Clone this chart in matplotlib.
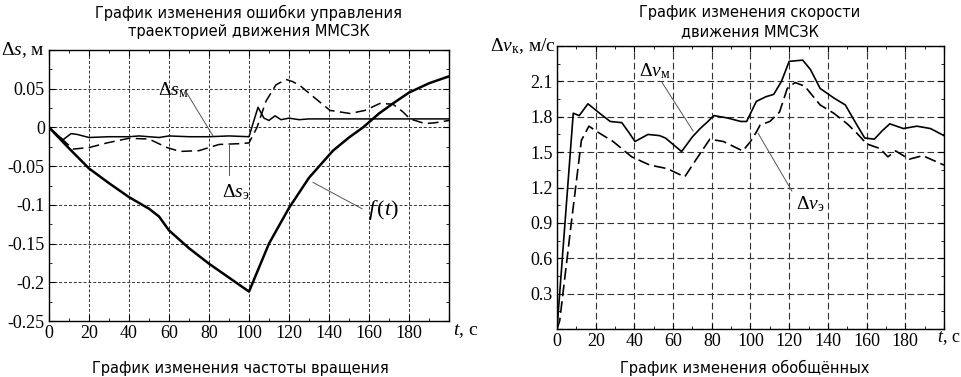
import numpy as np
import matplotlib
matplotlib.use("Agg")
import matplotlib.pyplot as plt
from matplotlib.ticker import MultipleLocator, FuncFormatter

plt.rcParams['axes.unicode_minus'] = False
plt.rcParams['mathtext.fontset'] = 'custom'
plt.rcParams['mathtext.rm'] = 'Liberation Serif'
plt.rcParams['mathtext.it'] = 'Liberation Serif:italic'
plt.rcParams['mathtext.bf'] = 'Liberation Serif:bold'

# left panel: control error of trajectory
t_f = [0, 10, 20, 30, 40, 50, 55, 60, 70, 80, 90, 100, 110, 120, 130, 142,
       150, 157, 165, 172, 180, 190, 200]
f_t = [0, -0.027, -0.053, -0.072, -0.09, -0.105, -0.115, -0.133, -0.156, -0.176,
       -0.194, -0.212, -0.15, -0.104, -0.065, -0.03, -0.013, 0.0, 0.018, 0.031,
       0.045, 0.057, 0.066]

t_sm = [0, 7, 11, 14, 20, 30, 40, 45, 50, 55, 60, 70, 80, 90, 100, 102, 104.5,
        107.5, 110, 113, 116, 120, 125, 130, 140, 160, 180, 200]
s_m = [0, -0.016, -0.008, -0.009, -0.013, -0.012, -0.012, -0.011, -0.012, -0.013,
       -0.011, -0.012, -0.012, -0.011, -0.012, 0.005, 0.026, 0.012, 0.009, 0.015,
       0.01, 0.012, 0.01, 0.011, 0.011, 0.011, 0.011, 0.011]

t_se = [0, 7, 12, 20, 29, 40, 50, 59, 65.5, 75, 85, 95, 100, 104, 108.5, 113.5,
        118.5, 122, 126, 132, 140.5, 150.5, 158, 165.5, 172, 177, 180.5, 188,
        193, 200]
s_e = [0, -0.016, -0.028, -0.026, -0.02, -0.014, -0.015, -0.026, -0.031, -0.03,
       -0.022, -0.021, -0.02, 0.0, 0.034, 0.055, 0.062, 0.059, 0.053, 0.04, 0.022,
       0.018, 0.022, 0.031, 0.03, 0.02, 0.011, 0.005, 0.006, 0.009]

# right panel: speed
t_vm = [0, 8.4, 11.5, 16, 22, 27.5, 33.5, 37, 40.3, 47, 53, 56, 64.4, 70, 74,
        78, 81, 88, 95, 98, 103, 108, 112, 116, 120, 127, 131, 136, 143, 149,
        155, 159, 164, 168, 172, 179, 186, 193, 200]
v_m = [0, 1.83, 1.81, 1.91, 1.83, 1.76, 1.75, 1.67, 1.59, 1.65, 1.64, 1.62, 1.505,
       1.63, 1.7, 1.76, 1.81, 1.79, 1.76, 1.76, 1.93, 1.97, 1.99, 2.1, 2.27, 2.28,
       2.2, 2.04, 1.96, 1.9, 1.73, 1.62, 1.61, 1.68, 1.74, 1.70, 1.72, 1.70, 1.64]

t_ve = [0, 1.4, 7.4, 12.6, 16.5, 22, 29, 38.6, 48, 57, 66, 72, 79, 86, 96, 100,
        103, 105, 110, 115, 119, 123, 128, 136, 143, 150, 155, 160, 167, 171,
        175, 182, 189, 200]
v_e = [0, 0.07, 0.9, 1.6, 1.72, 1.66, 1.59, 1.46, 1.39, 1.36, 1.29, 1.44, 1.61,
       1.59, 1.51, 1.59, 1.67, 1.73, 1.76, 1.84, 2.04, 2.09, 2.06, 1.9, 1.83, 1.74,
       1.66, 1.57, 1.53, 1.46, 1.51, 1.44, 1.47, 1.39]

fig = plt.figure(figsize=(9.62, 3.77), dpi=100)
ax1 = fig.add_axes([49/962, 1-321/377, 400/962, 271/377])
ax2 = fig.add_axes([557/962, 1-329/377, 387/962, 283/377])

ax1.plot(t_f, f_t, color='black', lw=1.8)
ax1.plot(t_sm, s_m, color='black', lw=1.1)
ax1.plot(t_se, s_e, color='black', lw=1.1, ls=(0, (7, 3.5)))
ax1.set_xlim(0, 200)
ax1.set_ylim(-0.25, 0.1)
ax1.xaxis.set_major_locator(MultipleLocator(20))
ax1.xaxis.set_minor_locator(MultipleLocator(10))
ax1.yaxis.set_major_locator(MultipleLocator(0.05))
ax1.yaxis.set_minor_locator(MultipleLocator(0.025))
ax1.xaxis.set_major_formatter(FuncFormatter(lambda v, p: '' if v > 190 else '%d' % v))
ax1.yaxis.set_major_formatter(FuncFormatter(
    lambda v, p: '' if v > 0.07 else ('0' if abs(v) < 1e-9 else ('%.2f' % v).rstrip('0'))))
ax1.grid(True, which='major', color='#333333', lw=0.7, ls=(0, (3, 2)))

ax2.plot(t_vm, v_m, color='black', lw=1.2)
ax2.plot(t_ve, v_e, color='black', lw=1.2, ls=(0, (7, 3)))
ax2.set_xlim(0, 200)
ax2.set_ylim(0, 2.4)
ax2.xaxis.set_major_locator(MultipleLocator(20))
ax2.xaxis.set_minor_locator(MultipleLocator(10))
ax2.yaxis.set_major_locator(MultipleLocator(0.3))
ax2.yaxis.set_minor_locator(MultipleLocator(0.15))
ax2.xaxis.set_major_formatter(FuncFormatter(lambda v, p: '' if v > 190 else '%d' % v))
ax2.yaxis.set_major_formatter(FuncFormatter(
    lambda v, p: '' if (v < 0.1 or v > 2.3) else '%.1f' % v))
ax2.grid(True, which='major', color='#333333', lw=0.8, ls=(0, (6, 3)))

for ax in (ax1, ax2):
    ax.tick_params(which='both', direction='in', top=True, right=True)
    ax.tick_params(which='major', length=4, pad=3)
    ax.tick_params(which='minor', length=2.5)
    for lab in ax.get_xticklabels() + ax.get_yticklabels():
        lab.set_fontfamily('Liberation Serif')
        lab.set_fontsize(13)
    for sp in ax.spines.values():
        sp.set_linewidth(1.0)

# annotations
ann = dict(color='#555555', lw=0.7)
ax1.plot([69, 82], [0.044, -0.011], **ann)
ax1.text(62, 0.048, r'$\Delta s_{\mathrm{м}}$', fontsize=14, ha='center', va='center')
ax1.plot([90, 90], [-0.062, -0.021], **ann)
ax1.text(93.5, -0.084, r'$\Delta s_{\mathrm{э}}$', fontsize=14, ha='center', va='center')
ax1.plot([156.5, 132], [-0.105, -0.071], **ann)
ax1.text(167, -0.107, r'$f\,(t)$', fontsize=16, ha='center', va='center')

ax2.plot([54.3, 70.3], [2.09, 1.68], **ann)
ax2.text(50.6, 2.19, r'$\Delta v_{\mathrm{м}}$', fontsize=14, ha='center', va='center')
ax2.plot([121.4, 103.9], [1.17, 1.66], **ann)
ax2.text(130.7, 1.06, r'$\Delta v_{\mathrm{э}}$', fontsize=14, ha='center', va='center')

# axis captions
fig.text(23/962, 1-50/377, r'$\Delta s$, м', fontsize=14, ha='center', va='center',
         family='Liberation Serif')
fig.text(466/962, 1-331/377, r'$t$, с', fontsize=14, ha='center', va='center',
         family='Liberation Serif')
fig.text(523/962, 1-46/377, r'$\Delta v_{\mathrm{к}}$, м/с', fontsize=14, ha='center',
         va='center', family='Liberation Serif')
fig.text(960/962, 1-338/377, r'$t$, с', fontsize=13, ha='right', va='center',
         family='Liberation Serif')

# titles
fig.text(249/962, 1-22/377, 'График изменения ошибки управления\nтраекторией движения ММСЗК',
         fontsize=10.5, ha='center', va='center', linespacing=1.3)
fig.text(750/962, 1-22/377, 'График изменения скорости\nдвижения ММСЗК',
         fontsize=10.5, ha='center', va='center', linespacing=1.3)
fig.text(240/962, 1-368/377, 'График изменения частоты вращения',
         fontsize=10.5, ha='center', va='center')
fig.text(745/962, 1-368/377, 'График изменения обобщённых',
         fontsize=10.5, ha='center', va='center')

fig.savefig('out.png', dpi=100)
